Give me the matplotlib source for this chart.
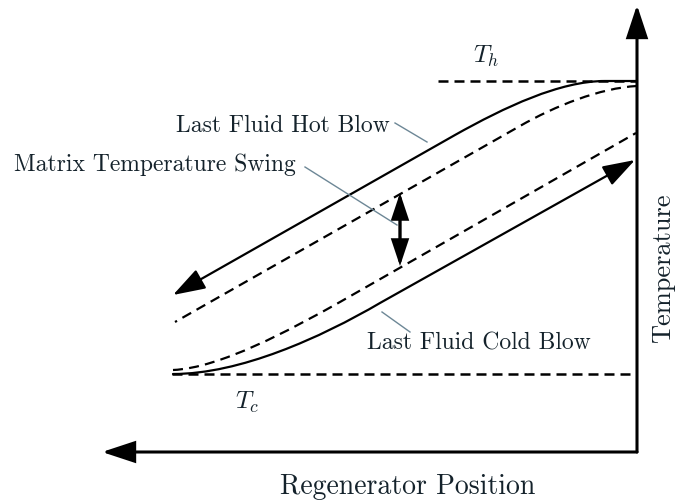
import matplotlib
matplotlib.use('Agg')
import matplotlib.pyplot as plt
from matplotlib.path import Path
from matplotlib.patches import FancyArrowPatch, PathPatch

W, H = 677, 504

AXIS_CORNER = (637, 452)
AXIS_TOP = (637, 5)
AXIS_LEFT = (102, 452)

T_HOT_Y = 81
T_HOT_X = [438, 637]
T_COLD_Y = 374
T_COLD_X = [172, 637]

# curve vertices: line / cubic bezier control points / line
HOT_SOLID_X = [637, 605, 560, 505, 455, 173]
HOT_SOLID_Y = [81, 81, 81, 107, 135, 295]
HOT_DASH_X = [637, 600, 555, 520, 175]
HOT_DASH_Y = [86, 88, 106, 126, 322]
COLD_DASH_X = [173, 220, 290, 340, 636]
COLD_DASH_Y = [370, 368, 330, 302, 133]
COLD_SOLID_X = [173, 240, 320, 380, 635]
COLD_SOLID_Y = [374, 374, 338, 303, 160]

SWING_X = 400
SWING_Y = [193, 266]

LEADER_HOT = [(395, 123), (427, 142)]
LEADER_SWING = [(305, 167), (397, 225)]
LEADER_COLD = [(382, 312), (410, 332)]

LINE = 'black'
TEXT = '#14222b'
LEADER = '#6d8796'

plt.rcParams['mathtext.fontset'] = 'cm'

fig = plt.figure(figsize=(W / 100, H / 100), dpi=100)
ax = fig.add_axes([0, 0, 1, 1])
ax.set_xlim(0, W)
ax.set_ylim(H, 0)
ax.axis('off')


def arrow(p0, p1, lw=2.2, style='-|>,head_length=1.0,head_width=0.33'):
    a = FancyArrowPatch(p0, p1, arrowstyle=style, mutation_scale=20, lw=lw,
                        color=LINE, shrinkA=0, shrinkB=0, joinstyle='miter')
    ax.add_patch(a)


def curve(xs, ys, codes, lw=1.6, dashed=False, arrowhead=False):
    path = Path(list(zip(xs, ys)), codes)
    if arrowhead:
        a = FancyArrowPatch(path=path, arrowstyle='-|>,head_length=1.0,head_width=0.33',
                            mutation_scale=20, lw=lw, color=LINE)
        ax.add_patch(a)
    else:
        ls = (0, (4.5, 2.8)) if dashed else '-'
        ax.add_patch(PathPatch(path, fill=False, lw=lw, ls=ls, edgecolor=LINE, capstyle='butt'))


# axes
arrow(AXIS_CORNER, AXIS_TOP)
arrow(AXIS_CORNER, AXIS_LEFT)

# reference temperatures
ax.plot(T_HOT_X, [T_HOT_Y, T_HOT_Y], color=LINE, lw=1.8, ls=(0, (4, 2.4)))
ax.plot(T_COLD_X, [T_COLD_Y, T_COLD_Y], color=LINE, lw=1.8, ls=(0, (4, 2.4)))

M, L, C = Path.MOVETO, Path.LINETO, Path.CURVE4
curve(HOT_SOLID_X, HOT_SOLID_Y, [M, L, C, C, C, L], arrowhead=True)
curve(HOT_DASH_X, HOT_DASH_Y, [M, C, C, C, L], dashed=True)
curve(COLD_DASH_X, COLD_DASH_Y, [M, C, C, C, L], dashed=True)
curve(COLD_SOLID_X, COLD_SOLID_Y, [M, C, C, C, L], arrowhead=True)

# matrix temperature swing
arrow((SWING_X, SWING_Y[0]), (SWING_X, SWING_Y[1]), lw=2.4,
      style='<|-|>,head_length=0.75,head_width=0.25')

for seg in (LEADER_HOT, LEADER_SWING, LEADER_COLD):
    ax.plot([seg[0][0], seg[1][0]], [seg[0][1], seg[1][1]], color=LEADER, lw=1.0)

font = dict(fontfamily='cmr10', color=TEXT)
ax.text(390, 126, 'Last Fluid Hot Blow', fontsize=17, ha='right', va='center', **font)
ax.text(14, 165, 'Matrix Temperature Swing', fontsize=17, ha='left', va='center', **font)
ax.text(367, 343, 'Last Fluid Cold Blow', fontsize=17, ha='left', va='center', **font)
ax.text(486, 56, r'$T_h$', fontsize=18, ha='center', va='center', color=TEXT)
ax.text(247, 402, r'$T_c$', fontsize=18, ha='center', va='center', color=TEXT)
ax.text(663, 268, 'Temperature', fontsize=19, rotation=90, ha='center', va='center', **font)
ax.text(408, 487, 'Regenerator Position', fontsize=20, ha='center', va='center', **font)

fig.savefig('out.png', dpi=100, facecolor='white')
